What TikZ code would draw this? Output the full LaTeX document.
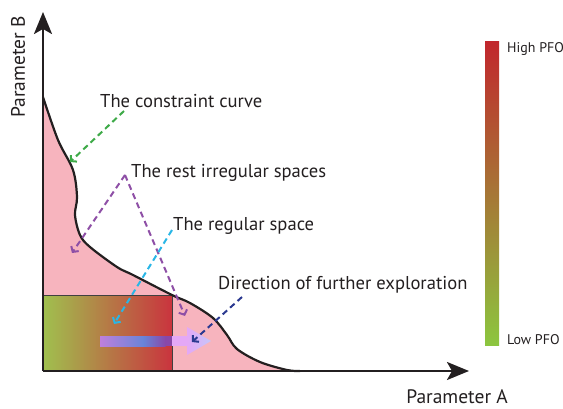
\documentclass[tikz,border=0pt]{standalone}
\usepackage{fontspec}
\setmainfont{PT Sans}
\usetikzlibrary{arrows.meta}
\definecolor{pinkfill}{RGB}{247,180,190}
\definecolor{gstart}{RGB}{160,192,78}
\definecolor{gend}{RGB}{202,52,62}
\definecolor{cbot}{RGB}{140,198,63}
\definecolor{ctop}{RGB}{193,39,45}
\definecolor{cgreen}{RGB}{62,170,72}
\definecolor{cpurple}{RGB}{142,79,166}
\definecolor{ccyan}{RGB}{41,182,230}
\definecolor{cnavy}{RGB}{43,57,144}
\definecolor{bandL}{RGB}{190,128,220}
\definecolor{bandM}{RGB}{104,132,216}
\definecolor{bandR}{RGB}{136,72,168}
\definecolor{bandP}{RGB}{228,168,246}
\definecolor{bandT}{RGB}{198,198,250}
\definecolor{txt}{RGB}{35,31,32}
\tikzset{
  axisline/.style={line width=2.5pt, txt, -{Stealth[length=22pt,width=18pt,inset=5pt]}},
  callout/.style={line width=2pt, dash pattern=on 6pt off 4pt, -{Straight Barb[length=4pt,width=9pt]}},
  lbl/.style={font=\fontsize{18.6}{22}\selectfont, text=txt, anchor=west, inner sep=0pt},
  axlbl/.style={font=\fontsize{19.5}{22}\selectfont, text=txt, anchor=center, inner sep=0pt},
  small/.style={font=\fontsize{14}{16}\selectfont, text=txt, anchor=west, inner sep=0pt},
}
\begin{document}
\begin{tikzpicture}[x=1pt,y=-1pt]
\useasboundingbox (0,0) rectangle (563,409);
\coordinate (O) at (43,371);
\coordinate (Ytop) at (43,12);
\coordinate (Xend) at (469,371);
% pink region
\fill[pinkfill] (43,97) -- plot[smooth,tension=0.55] coordinates {(43,97) (58,140) (73,170) (77,197) (75,215) (80,235) (90,247) (117,267) (133,275) (172,295) (190,303) (213,318) (227,335) (237,349) (260,362) (287,370) (300,371)} -- (43,371) -- cycle;
% regular space rectangle
\shade[left color=gstart, right color=gend] (43,295) rectangle (172,371);
\draw[line width=1pt, black!75] (43,295) rectangle (172,371);
% direction arrow band
\shade[left color=bandL, right color=bandM] (100,336) rectangle (143.5,346);
\shade[left color=bandM, right color=bandR] (143,336) rectangle (165.5,346);
\fill[bandR] (165,336) rectangle (172.5,346);
\fill[bandP] (172,336) rectangle (188,346);
\shade[left color=bandP, right color=bandT] (187,327) -- (211,341) -- (187,355) -- cycle;
% constraint curve
\draw[line width=2.2pt, txt] plot[smooth,tension=0.55] coordinates {(43,97) (58,140) (73,170) (77,197) (75,215) (80,235) (90,247) (117,267) (133,275) (172,295) (190,303) (213,318) (227,335) (237,349) (260,362) (287,370) (300,371)};
% axes
\draw[axisline] (O) -- (Ytop);
\draw[axisline] (O) -- (Xend);
% labels
\node[lbl] (tcc) at (100,101) {The constraint curve};
\node[lbl] (tri) at (131,173) {The rest irregular spaces};
\node[lbl] (trs) at (173,226) {The regular space};
\node[lbl] (tdf) at (218,285) {Direction of further exploration};
\node[axlbl, rotate=90] (pb) at (18,67) {Parameter B};
\node[axlbl] (pa) at (457,397) {Parameter A};
% callouts
\coordinate (gs) at (124,111);
\coordinate (ge) at (70,162);
\coordinate (pv) at (125,175);
\coordinate (pe1) at (72,253);
\coordinate (pe2) at (185,316);
\coordinate (cs) at (172,230);
\coordinate (ce) at (114,324);
\coordinate (ns) at (242,297);
\coordinate (ne) at (192,342);
\draw[callout, cgreen] (gs) -- (ge);
\draw[callout, cpurple] (pv) -- (pe1);
\draw[callout, cpurple] (pv) -- (pe2);
\draw[callout, ccyan] (cs) -- (ce);
\draw[callout, cnavy] (ns) -- (ne);
% colour bar
\shade[bottom color=cbot, top color=ctop] (485,42) rectangle (499,345);
\node[small] (hi) at (507,49) {High PFO};
\node[small] (lo) at (507,340) {Low PFO};
\end{tikzpicture}
\end{document}
